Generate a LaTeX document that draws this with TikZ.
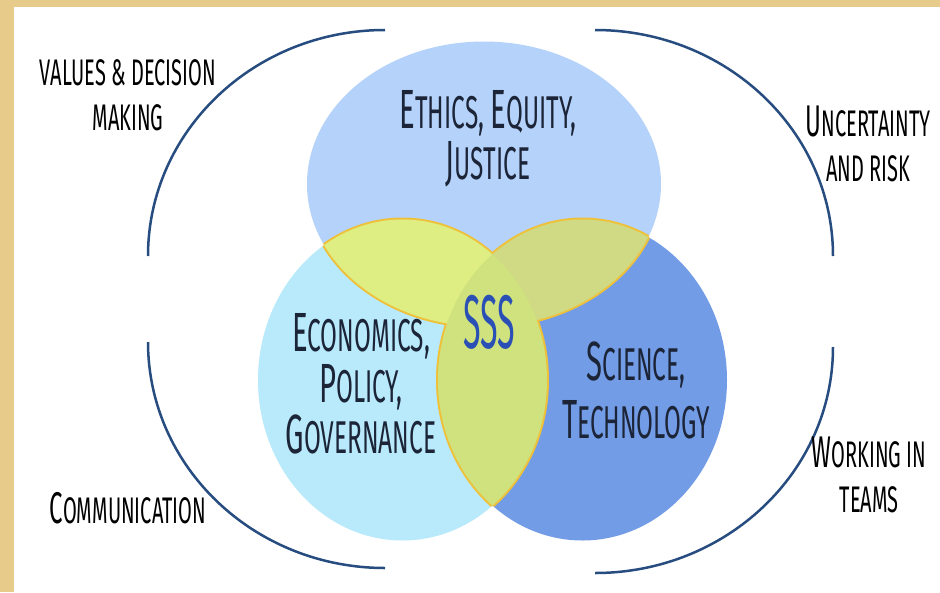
\documentclass[tikz,border=0pt]{standalone}
\usepackage{fontspec}
\usepackage{tikz}
\newfontfamily\handfont{Fira Sans}[FakeStretch=0.53]
\newfontfamily\sidefont{Fira Sans}[FakeStretch=0.54]
\definecolor{parch}{HTML}{E6CB8A}
\definecolor{ethicsblue}{HTML}{B4D2FA}
\definecolor{econblue}{HTML}{B8EAFC}
\definecolor{sciblue}{HTML}{739CE6}
\definecolor{petalUL}{HTML}{DEEE83}
\definecolor{petalUR}{HTML}{D0DA84}
\definecolor{petalB}{HTML}{CFE27D}
\definecolor{rim}{HTML}{EFC13A}
\definecolor{brace}{HTML}{274C80}
\definecolor{ink}{HTML}{1C2437}
\definecolor{sssblue}{HTML}{2A4FB5}
\newcommand\capl[1]{\scalebox{1.2}{#1}}

\begin{document}
\begin{tikzpicture}[x=1pt,y=-1pt]
						\tikzstyle{outer}=[inner sep=0pt,align=center,text=black,font=\sidefont\fontsize{37}{45}\selectfont]
						\tikzstyle{inner}=[inner sep=0pt,align=center,text=ink,font=\handfont\fontsize{46}{51}\selectfont]
						\tikzstyle{arcline}=[draw=brace,line width=2.5pt]
						\useasboundingbox (0,0) rectangle (940,592);
						\fill[parch] (0,0) rectangle (940,592);
						\fill[white] (14,7) rectangle (940,592);
						\fill[ethicsblue] (484,184) ellipse [x radius=177,y radius=142.5];
						\fill[econblue] (402.5,380) ellipse [x radius=144.5,y radius=160.5];
						\fill[sciblue] (582.5,380) ellipse [x radius=144.5,y radius=160.5];
						\begin{scope}
							\clip (484,184) ellipse [x radius=177,y radius=142.5];
							\draw[rim,line width=4pt] (402.5,380) ellipse [x radius=144.5,y radius=160.5];
							\draw[rim,line width=4pt] (582.5,380) ellipse [x radius=144.5,y radius=160.5];
						\end{scope}
						\begin{scope}
							\clip (402.5,380) ellipse [x radius=144.5,y radius=160.5];
							\draw[rim,line width=4pt] (484,184) ellipse [x radius=177,y radius=142.5];
							\draw[rim,line width=4pt] (582.5,380) ellipse [x radius=144.5,y radius=160.5];
						\end{scope}
						\begin{scope}
							\clip (582.5,380) ellipse [x radius=144.5,y radius=160.5];
							\draw[rim,line width=4pt] (484,184) ellipse [x radius=177,y radius=142.5];
							\draw[rim,line width=4pt] (402.5,380) ellipse [x radius=144.5,y radius=160.5];
						\end{scope}
						\begin{scope}
							\clip (484,184) ellipse [x radius=177,y radius=142.5];
							\fill[petalUL] (402.5,380) ellipse [x radius=144.5,y radius=160.5];
							\fill[petalUR] (582.5,380) ellipse [x radius=144.5,y radius=160.5];
						\end{scope}
						\begin{scope}
							\clip (402.5,380) ellipse [x radius=144.5,y radius=160.5];
							\fill[petalB] (582.5,380) ellipse [x radius=144.5,y radius=160.5];
						\end{scope}
						\draw[arcline] (385,30) arc [start angle=-90,end angle=-180,x radius=237,y radius=226];
						\draw[arcline] (595,30) arc [start angle=-90,end angle=0,x radius=238,y radius=226];
						\draw[arcline] (148,342) arc [start angle=180,end angle=90,x radius=237,y radius=226];
						\draw[arcline] (833,347) arc [start angle=0,end angle=90,x radius=238,y radius=226];
						\node[inner](ethics) at (488,139) {\capl{E}THICS, \capl{E}QUITY,\\\capl{J}USTICE};
						\node[inner](econ) at (361,384) {\capl{E}CONOMICS,\\\capl{P}OLICY,\\\capl{G}OVERNANCE};
						\node[inner,font=\handfont\fontsize{46}{58}\selectfont](science) at (636,390) {\capl{S}CIENCE,\\\capl{T}ECHNOLOGY};
						\node[inner,text=sssblue,font=\handfont\fontsize{76}{76}\selectfont](sss) at (489,322) {\scalebox{0.8}[1]{SSS}};
						\node[outer](values) at (128,95) {VALUES \& DECISION\\MAKING};
						\node[outer](uncert) at (868,144) {\capl{U}NCERTAINTY\\AND RISK};
						\node[outer](comm) at (128,508) {\capl{C}OMMUNICATION};
						\node[outer](teams) at (869,475) {\capl{W}ORKING IN\\TEAMS};
					\end{tikzpicture}
\end{document}
